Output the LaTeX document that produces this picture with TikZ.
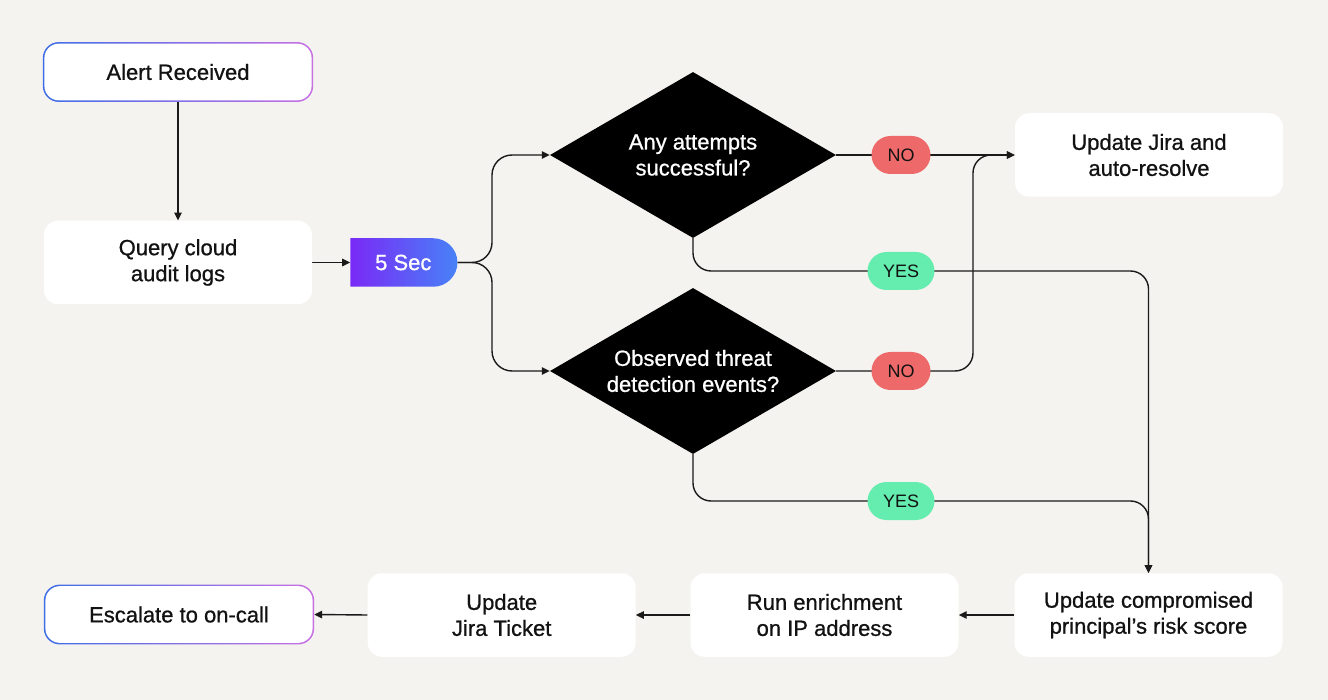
\documentclass[tikz,border=0pt]{standalone}
\usepackage{fontspec}
\setmainfont{Liberation Sans}[BoldFont=Liberation Sans, BoldFeatures={FakeBold=0.8}]
\usetikzlibrary{shapes.geometric,shapes.misc,arrows.meta}
\definecolor{bgc}{HTML}{F4F3EF}
\definecolor{ink}{HTML}{121212}
\definecolor{linec}{HTML}{1A1A1A}
\definecolor{gblue}{HTML}{3F6FE6}
\definecolor{gpink}{HTML}{C870E4}
\definecolor{secl}{HTML}{7A2AF6}
\definecolor{secr}{HTML}{4782F7}
\definecolor{nored}{HTML}{EE6A6A}
\definecolor{yesgreen}{HTML}{64EDAE}
\pgfdeclarelayer{back}
\pgfdeclarelayer{bg}
\pgfsetlayers{back,bg,main}
\begin{document}
\begin{tikzpicture}[x=1pt,y=-1pt,
  mainfont/.style={font=\fontsize{22}{26}\selectfont\bfseries},
  box/.style={rectangle, rounded corners=14pt, fill=white, minimum width=268pt, minimum height=83.5pt, inner sep=0pt, align=center, mainfont, text=ink},
  gbox/.style={rectangle, minimum width=270pt, minimum height=59.5pt, inner sep=0pt, align=center, mainfont, text=ink},
  dia/.style={diamond, aspect=1.72, fill=black, minimum width=286pt, minimum height=166pt, inner sep=0pt, align=center, text=white, mainfont},
  secbox/.style={rounded rectangle, rounded rectangle left arc=none, minimum width=107pt, minimum height=48.5pt, inner sep=0pt, left color=secl, right color=secr, text=white, mainfont},
  pill/.style={rectangle, rounded corners=19pt, minimum height=38pt, inner sep=0pt, font=\fontsize{18}{20}\selectfont, text=ink},
  nopill/.style={pill, fill=nored, minimum width=59pt},
  yespill/.style={pill, fill=yesgreen, minimum width=67pt},
  ln/.style={draw=linec, line width=1.4pt},
  arr/.style={ln, -{Triangle[length=8pt,width=7.5pt]}},
  gborder/.style={left color=gblue, right color=gpink, rounded corners=16pt},
]
\begin{pgfonlayer}{back}
\useasboundingbox (0,0) rectangle (1328,700);
\fill[bgc] (0,0) rectangle (1328,700);
\end{pgfonlayer}

% nodes
\node[gbox] (alert) at (178,72) {Alert Received};
\node[box] (query) at (178,262.5) {Query cloud\\audit logs};
\node[secbox] (sec) at (403.3,262.5) {5 Sec};
\node[dia] (d1) at (693,155) {Any attempts\\successful?};
\node[dia] (d2) at (693,371) {Observed threat\\detection events?};
\node[box] (jira) at (1149,155) {Update Jira and\\auto-resolve};
\node[box] (upd) at (1148.5,615) {Update compromised\\principal’s risk score};
\node[box] (enr) at (824.5,615) {Run enrichment\\on IP address};
\node[box] (tick) at (501.7,615) {Update\\Jira Ticket};
\node[gbox] (esc) at (179,614.5) {Escalate to on-call};
\node[nopill] (no1) at (901,155) {NO};
\node[nopill] (no2) at (901,371) {NO};
\node[yespill] (yes1) at (901,271) {YES};
\node[yespill] (yes2) at (901,501) {YES};

\begin{pgfonlayer}{bg}
% gradient borders
\foreach \n in {alert,esc}{
  \shade[gborder] (\n.south west) rectangle (\n.north east);
  \fill[white, rounded corners=14.5pt] ([shift={(1.6pt,1.6pt)}]\n.south west) rectangle ([shift={(-1.6pt,-1.6pt)}]\n.north east);
}
% connectors
\draw[arr] (alert.south) -- (query.north);
\draw[arr] (query.east) -- (sec.west);
\draw[arr, rounded corners=20pt] (sec.east) -- (492,262.5) |- (d1.west);
\draw[arr, rounded corners=20pt] (sec.east) -- (492,262.5) |- (d2.west);
\draw[arr] (d1.east) -- (jira.west);
\draw[arr, rounded corners=18pt] (d2.east) -- (973,371) |- (jira.west);
\draw[arr, rounded corners=18pt] (d1.south) |- (yes1.center) -| (upd.north);
\draw[arr, rounded corners=18pt] (d2.south) |- (yes2.center) -| (upd.north);
\draw[arr] (upd.west) -- (enr.east);
\draw[arr] (enr.west) -- (tick.east);
\draw[arr] (tick.west) -- (esc.east);
\end{pgfonlayer}
\end{tikzpicture}
\end{document}
